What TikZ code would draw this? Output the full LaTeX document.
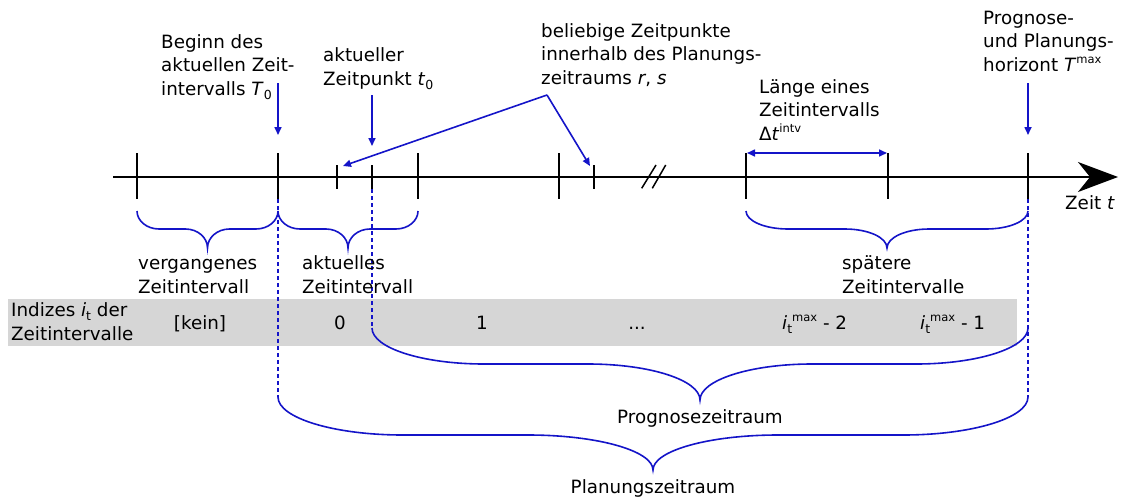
\documentclass[tikz,border=0pt]{standalone}
\usepackage{fontspec}
\setmainfont{DejaVu Sans}
\usetikzlibrary{arrows.meta}

\definecolor{lineblue}{RGB}{20,20,200}
\definecolor{bandgray}{RGB}{214,214,214}

% small upright indices for the symbols
\newcommand\lowidx[1]{\raisebox{-0.22em}{\fontsize{12.5}{12.5}\selectfont #1}}
\newcommand\hiidx[1]{\raisebox{0.42em}{\fontsize{11.5}{11.5}\selectfont #1}}

% curly brace opening downwards: x-left, x-right, y-ends, y-middle, y-tip, arc width
\newcommand\bracedraw[6]{%
  \pgfmathsetmacro\bxm{(#1+#2)/2}%
  \draw[brace] (#1,#3)
    .. controls (#1,{#3+0.552*(#4-#3)}) and ({#1+0.448*#6},#4) .. ({#1+#6},#4)
    -- ({\bxm-#6},#4)
    .. controls ({\bxm-0.448*#6},#4) and (\bxm,{#4+0.448*(#5-#4)}) .. (\bxm,#5)
    .. controls (\bxm,{#4+0.448*(#5-#4)}) and ({\bxm+0.448*#6},#4) .. ({\bxm+#6},#4)
    -- ({#2-#6},#4)
    .. controls ({#2-0.448*#6},#4) and (#2,{#3+0.552*(#4-#3)}) .. (#2,#3);%
}

\begin{document}
\begin{tikzpicture}[x=1pt,y=-1pt,
  lbl/.style={font=\fontsize{18.3}{23.3}\selectfont, inner sep=0pt, align=left, anchor=base west},
  midlbl/.style={font=\fontsize{18.3}{23.3}\selectfont, inner sep=0pt, anchor=base},
  tick/.style={line width=1.5pt},
  axisline/.style={line width=1.5pt, -{Stealth[length=40pt,width=30pt,inset=12pt]}},
  pointer/.style={lineblue, line width=1.6pt, -{Triangle[length=8pt,width=7pt]}},
  span/.style={lineblue, line width=1.6pt, {Triangle[length=8pt,width=7pt]}-{Triangle[length=8pt,width=7pt]}},
  guide/.style={lineblue, line width=1.3pt, dash pattern=on 4pt off 3pt},
  brace/.style={lineblue, line width=1.6pt}]

\useasboundingbox (0,0) rectangle (1124,501);

% index band
\fill[bandgray] (8,299) rectangle (1017,346);

% time axis
\coordinate (axL) at (113,177);
\coordinate (axR) at (1118,177);
\draw[axisline] (axL) -- (axR);

% interval boundaries
\foreach \x in {137,278,418,559,746,888,1028}
  \draw[tick] (\x,153) -- (\x,199);
% single points in time
\foreach \x in {337,372,594}
  \draw[tick] (\x,165) -- (\x,189);
% axis break
\draw[tick] (641.7,188.3) -- (656,165);
\draw[tick] (652.3,188.3) -- (665.7,165);

% dashed guides down to the braces
\draw[guide] (278,199) -- (278,397);
\draw[guide] (372,189) -- (372,328);
\draw[guide] (1028,199) -- (1028,397);

% braces
\bracedraw{137}{278}{211}{229}{248}{22}
\bracedraw{278}{418}{211}{229}{248}{22}
\bracedraw{746}{1028}{211}{229}{248}{42}
\bracedraw{372}{1028}{328}{364}{400}{112}
\bracedraw{278}{1028}{397}{435}{470}{125}

% pointers from the labels
\coordinate (T0a) at (278,83);   \coordinate (T0b) at (278,135);
\coordinate (t0a) at (372,95);   \coordinate (t0b) at (372,146);
\coordinate (rsa) at (547,95);
\coordinate (rb)  at (343,166);  \coordinate (sb)  at (590,166);
\coordinate (Tma) at (1028,83);  \coordinate (Tmb) at (1028,135);
\coordinate (dtl) at (747,153);  \coordinate (dtr) at (887,153);
\draw[pointer] (T0a) -- (T0b);
\draw[pointer] (t0a) -- (t0b);
\draw[pointer] (rsa) -- (rb);
\draw[pointer] (rsa) -- (sb);
\draw[pointer] (Tma) -- (Tmb);
\draw[span] (dtl) -- (dtr);

% labels above the axis (anchored at the baseline of their last line)
\node[lbl] (beginn) at (161,95) {Beginn des\\aktuellen Zeit-\\intervalls \textit{T}\lowidx{0}};
\node[lbl] (jetzt) at (323,85) {aktueller\\Zeitpunkt \textit{t}\lowidx{0}};
\node[lbl] (belieb) at (541,84) {beliebige Zeitpunkte\\innerhalb des Planungs-\\zeitraums \textit{r}, \textit{s}};
\node[lbl] (laenge) at (759,140) {Länge eines\\Zeitintervalls\\Δ\textit{t}\hiidx{intv}};
\node[lbl] (horiz) at (983,71) {Prognose-\\und Planungs-\\horizont \textit{T}\hiidx{max}};
\node[lbl] (zeit) at (1065,209) {Zeit \textit{t}};

% labels below the axis
\node[lbl] (verg) at (138,293) {vergangenes\\Zeitintervall};
\node[lbl] (aktu) at (302,293) {aktuelles\\Zeitintervall};
\node[lbl] (spaet) at (842,293) {spätere\\Zeitintervalle};

% index row
\node[lbl] (indiz) at (11,340) {Indizes \textit{i}\lowidx{t} der\\Zeitintervalle};
\node[midlbl] (ik) at (200,329) {[kein]};
\node[midlbl] (i0) at (340,329) {0};
\node[midlbl] (i1) at (482,329) {1};
\node[midlbl] (idots) at (637,329) {...};
\node[lbl] (im2) at (782,329) {\textit{i}\lowidx{t}\hiidx{max} - 2};
\node[lbl] (im1) at (920,329) {\textit{i}\lowidx{t}\hiidx{max} - 1};

% period labels
\node[midlbl] (prog) at (700,423) {Prognosezeitraum};
\node[midlbl] (plan) at (653,493) {Planungszeitraum};
\end{tikzpicture}
\end{document}
